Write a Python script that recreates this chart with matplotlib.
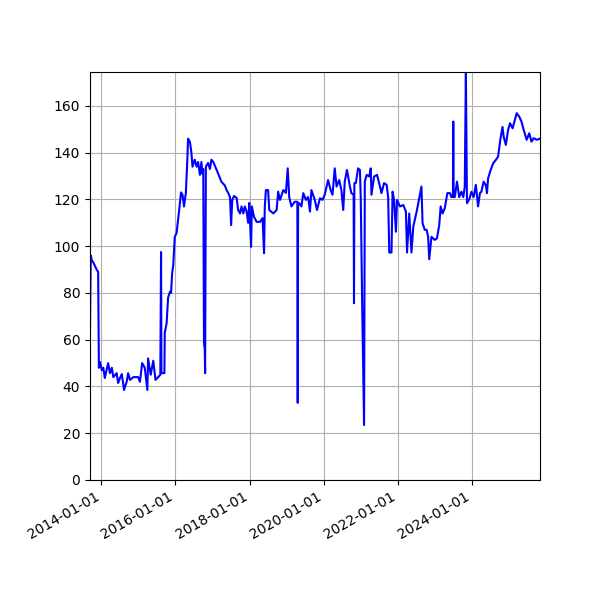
import matplotlib
matplotlib.use('Agg')
import matplotlib.pyplot as plt
import matplotlib.dates as mdates
import datetime as dt

# Dates as decimal years
years = [2013.69, 2013.71, 2013.74, 2013.78, 2013.87, 2013.91, 2013.93, 2013.96, 2014.01, 2014.05,
         2014.09, 2014.18, 2014.23, 2014.28, 2014.32, 2014.41, 2014.45, 2014.50, 2014.55, 2014.61,
         2014.68, 2014.72, 2014.77, 2014.86, 2014.99, 2015.04, 2015.10, 2015.17, 2015.24, 2015.26,
         2015.33, 2015.40, 2015.46, 2015.53, 2015.59, 2015.61, 2015.62, 2015.70, 2015.71, 2015.76,
         2015.80, 2015.85, 2015.88, 2015.91, 2015.94, 2015.98, 2016.03, 2016.10, 2016.15, 2016.19,
         2016.23, 2016.28, 2016.32, 2016.34, 2016.39, 2016.43, 2016.46, 2016.52, 2016.57, 2016.61,
         2016.66, 2016.70, 2016.73, 2016.75, 2016.77, 2016.79, 2016.80, 2016.82, 2016.88, 2016.93,
         2016.97, 2017.02, 2017.11, 2017.24, 2017.33, 2017.38, 2017.42, 2017.47, 2017.50, 2017.53,
         2017.58, 2017.65, 2017.69, 2017.74, 2017.78, 2017.83, 2017.87, 2017.92, 2017.96, 2017.99,
         2018.04, 2018.06, 2018.12, 2018.19, 2018.28, 2018.35, 2018.39, 2018.41, 2018.44, 2018.50,
         2018.53, 2018.64, 2018.73, 2018.77, 2018.82, 2018.91, 2018.98, 2019.03, 2019.07, 2019.13,
         2019.22, 2019.29, 2019.30, 2019.31, 2019.34, 2019.40, 2019.45, 2019.52, 2019.58, 2019.63,
         2019.67, 2019.76, 2019.82, 2019.90, 2019.97, 2020.03, 2020.12, 2020.19, 2020.24, 2020.30,
         2020.35, 2020.42, 2020.48, 2020.53, 2020.57, 2020.63, 2020.71, 2020.75, 2020.81, 2020.82,
         2020.83, 2020.87, 2020.93, 2020.98, 2021.00, 2021.04, 2021.09, 2021.11, 2021.16, 2021.23,
         2021.27, 2021.29, 2021.36, 2021.44, 2021.52, 2021.56, 2021.63, 2021.70, 2021.74, 2021.77,
         2021.83, 2021.86, 2021.90, 2021.95, 2021.98, 2022.06, 2022.15, 2022.22, 2022.25, 2022.31,
         2022.37, 2022.42, 2022.51, 2022.64, 2022.67, 2022.73, 2022.78, 2022.82, 2022.85, 2022.91,
         2023.00, 2023.06, 2023.12, 2023.16, 2023.21, 2023.27, 2023.34, 2023.41, 2023.45, 2023.49,
         2023.50, 2023.51, 2023.54, 2023.60, 2023.66, 2023.72, 2023.77, 2023.81, 2023.84, 2023.87,
         2023.93, 2023.99, 2024.05, 2024.11, 2024.17, 2024.22, 2024.26, 2024.32, 2024.38, 2024.41,
         2024.44, 2024.51, 2024.58, 2024.65, 2024.71, 2024.77, 2024.83, 2024.86, 2024.92, 2024.98,
         2025.03, 2025.10, 2025.16, 2025.21, 2025.28, 2025.34, 2025.40, 2025.48, 2025.55, 2025.61,
         2025.67, 2025.75, 2025.84]
values = [64, 96, 94, 93, 90, 89, 48, 50.5, 47, 48,
          43.6, 50, 45.7, 48, 44, 45.7, 41.5, 43.6, 45.3, 38.5,
          42, 45.7, 42.8, 44, 44, 42, 50, 48, 38.5, 52,
          45, 51, 42.8, 44, 45, 97.5, 45.7, 45.7, 63, 67,
          78, 80.5, 80, 88.5, 92, 104, 105.6, 115.5, 123, 122,
          117, 122.8, 137, 146, 144.6, 140, 134, 137, 134, 136,
          130.5, 136, 131, 133, 58.6, 56, 45.7, 134, 135.6, 133,
          137, 136, 132.6, 127.5, 126, 124, 122.8, 121, 109, 119.8,
          121.5, 120.6, 115.5, 114, 117, 114, 117, 114.7, 110, 118.5,
          99.7, 117, 112.5, 110.4, 110.4, 112, 97, 117, 124, 124,
          115.5, 114, 115.5, 123.3, 119.8, 124, 122.8, 133.3, 121, 117,
          119, 119, 33, 118, 118.4, 117, 122.7, 119.8, 121, 114.8,
          124, 119.8, 115.5, 120.5, 119.8, 122, 128.3, 124, 122, 133.3,
          125.5, 128.3, 124, 115.5, 127.6, 132.6, 125.5, 122.7, 122, 75.6,
          127, 127, 133.3, 132.6, 121, 73.5, 23.5, 127.6, 130.5, 129.8,
          133.3, 122, 129.8, 130.5, 125.5, 122.7, 127, 126.2, 121, 97.3,
          97.3, 123.3, 119.8, 106.2, 119.8, 117, 117.6, 114.8, 97.3, 114,
          97.3, 108.4, 114.8, 125.5, 109.8, 107, 107, 104, 94.4, 104,
          102.7, 103.4, 109, 117, 114, 116.2, 122.7, 122.7, 121, 121,
          153.3, 121, 121, 127.6, 121, 123.3, 121, 125.5, 174.5, 118.4,
          120, 123.3, 121, 126.2, 117, 122.7, 123.3, 127.6, 126, 122.7,
          129, 132.6, 135.5, 136.9, 138.3, 145.5, 151, 146.9, 143.3, 149.7,
          152.6, 150.4, 154, 156.9, 155.4, 153.3, 149.7, 145.5, 148.3, 144.7,
          146.2, 145.5, 146]

def to_date(y):
    yr = int(y)
    return dt.datetime(yr, 1, 1) + dt.timedelta(days=(y - yr) * 365.25)

dates = [to_date(y) for y in years]

fig, ax = plt.subplots(figsize=(6, 6), dpi=100)
ax.plot(dates, values, color='b', linewidth=1.5)
ax.set_xlim(dates[0], dates[-1])
ax.set_ylim(0, max(values))
ax.xaxis.set_major_locator(mdates.YearLocator(2))
ax.xaxis.set_major_formatter(mdates.DateFormatter('%Y-%m-%d'))
ax.grid(True)
fig.autofmt_xdate()
fig.subplots_adjust(left=0.15, right=0.9, top=0.88, bottom=0.2)
fig.savefig('out.png', dpi=100)
